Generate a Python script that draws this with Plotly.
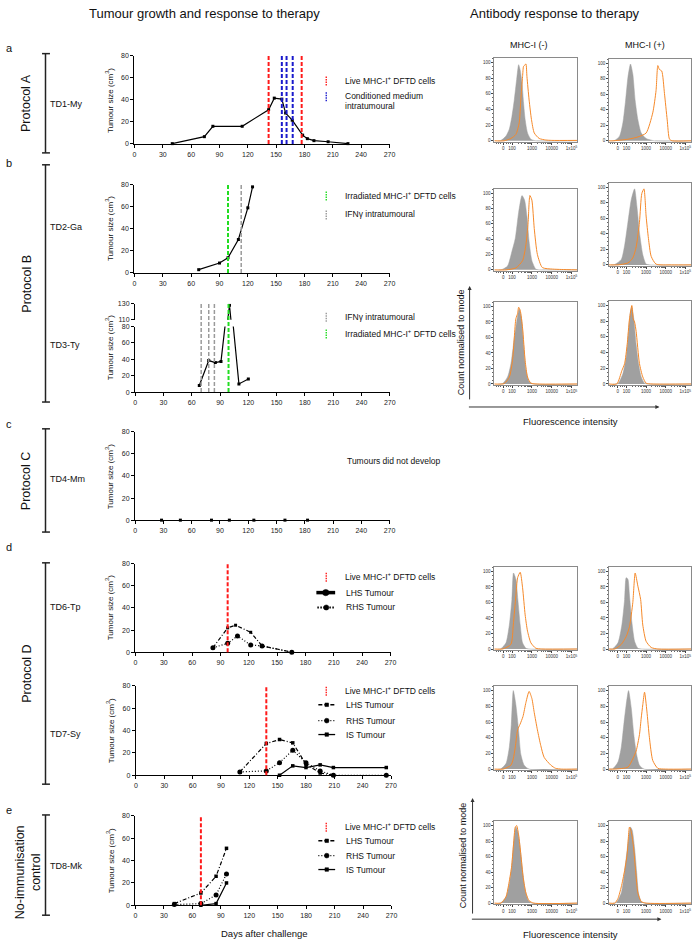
import math
import plotly.graph_objects as go

# ---------------------------------------------------------------- data
DAY_TICKS = [0, 30, 60, 90, 120, 150, 180, 210, 240, 270]
SIZE_TICKS = [0, 20, 40, 60, 80]

# a  TD1-My
TD1_DAYS = [40, 74, 83, 114, 142, 148, 156, 160, 167, 178, 183, 190, 205, 226]
TD1_SIZE = [0.3, 6.6, 16, 16, 31, 41.5, 40.6, 28, 21.5, 8, 4.8, 3, 2, 0.3]
TD1_LIVE = [142, 177]
TD1_COND = [156, 161, 167.5]

# b  TD2-Ga
TD2_DAYS = [68, 90, 99, 110, 120, 125]
TD2_SIZE = [3, 9, 13.8, 30.3, 59, 78]
TD2_IRR = [99]
TD2_IFN = [113]

# b  TD3-Ty (broken axis)
TD3_DAYS = [68, 78, 85, 91, 100, 110, 120]
TD3_SIZE = [8, 38.5, 36, 37.5, 128, 10, 16]
TD3_IFN = [70, 78, 84]
TD3_IRR = [99]

# c  TD4-Mm
TD4_DAYS = [28, 48, 81, 100, 126, 159, 183]
TD4_SIZE = [0, 0, 0, 0, 0, 0, 0]

# d  TD6-Tp
TD6_LHS_DAYS = [82, 97.6, 106, 122, 134, 165.5]
TD6_LHS_SIZE = [4, 22, 24.4, 18, 5.7, 0]
TD6_RHS_DAYS = [82, 97.6, 108, 122, 134, 165.5]
TD6_RHS_SIZE = [4, 8, 14.6, 6.5, 5.6, 0]
TD6_LIVE = [97.6]

# d  TD7-Sy
TD7_LHS_DAYS = [110, 138, 152, 166, 180, 195, 209]
TD7_LHS_SIZE = [3, 28.4, 32, 29, 9.8, 2, 0]
TD7_RHS_DAYS = [110, 138, 152, 166, 180, 195, 209, 265]
TD7_RHS_SIZE = [3, 3.9, 11.3, 22.4, 11.3, 3.9, 0, 0]
TD7_IS_DAYS = [152, 166, 180, 195, 209, 265]
TD7_IS_SIZE = [0, 8.4, 6.9, 9.3, 6.9, 6.9]
TD7_LIVE = [138]

# e  TD8-Mk
TD8_LHS_DAYS = [41, 69, 85, 96]
TD8_LHS_SIZE = [1.5, 11, 26, 51]
TD8_RHS_DAYS = [41, 69, 85, 96]
TD8_RHS_SIZE = [0.6, 1.5, 9.3, 28]
TD8_IS_DAYS = [69, 85, 96]
TD8_IS_SIZE = [0, 1.5, 20]
TD8_LIVE = [69]

# flow-cytometry histograms: (axis position in decades, % of mode)
HIST_TICKVALS = [1.55, 2, 3, 4, 5]
HIST_TICKTEXT = ["0", "100", "1000", "10000", "1x10<sup>5</sup>"]

TD1_NEG_CTRL = [(1.3,0),(1.44,0.5),(1.69,6),(1.86,15),(1.99,31),(2.11,52),(2.23,78),(2.33,97),(2.41,90),(2.5,74),(2.58,48),(2.66,27),(2.78,10),(2.95,2),(3.2,0),(5.3,0)]
TD1_NEG_SERA = [(1.1,0),(1.6,0),(1.94,3),(2.19,8),(2.36,23),(2.44,52),(2.53,82),(2.58,95),(2.63,96),(2.7,98),(2.75,82),(2.86,52),(2.98,27),(3.12,10),(3.37,3),(3.7,1),(4.0,0.5),(5.3,0.5)]
TD1_POS_CTRL = [(1.2,0),(1.39,0.5),(1.64,6),(1.81,23),(1.95,52),(2.07,82),(2.2,99),(2.32,86),(2.44,52),(2.58,27),(2.75,10),(3.0,3),(3.43,0),(5.3,0)]
TD1_POS_SERA = [(1.1,0),(1.3,0),(2.07,2),(2.58,5),(3.0,10),(3.34,36),(3.51,65),(3.6,97),(3.68,92),(3.8,90),(3.94,61),(4.08,27),(4.2,2),(4.35,0),(5.3,0)]

TD2_NEG_CTRL = [(1.3,0),(1.49,0.5),(1.77,5),(1.99,24),(2.16,41),(2.33,75),(2.5,97),(2.63,91),(2.75,70),(2.86,37),(3.0,12),(3.2,1),(3.4,0),(5.3,0)]
TD2_NEG_SERA = [(1.1,0),(1.69,0),(2.19,2.5),(2.53,12),(2.7,33),(2.81,62),(2.9,97),(3.0,91),(3.12,54),(3.28,20),(3.53,3),(4.04,1),(4.5,0.5),(5.3,0)]
TD2_POS_CTRL = [(1.2,0),(1.39,0.5),(1.73,7),(1.9,25),(2.07,55),(2.24,84),(2.41,98),(2.53,75),(2.66,42),(2.83,13),(3.0,1),(3.2,0),(5.3,0)]
TD2_POS_SERA = [(1.1,0),(1.56,0),(2.07,2.5),(2.32,9),(2.49,23),(2.66,55),(2.78,92),(2.89,98),(3.0,63),(3.12,34),(3.26,11),(3.51,1),(4.3,0),(5.3,0)]

TD3_NEG_CTRL = [(1.3,0),(1.52,0.5),(1.77,9),(1.94,26),(2.11,59),(2.28,88),(2.36,97),(2.48,84),(2.58,51),(2.7,18),(2.86,3),(3.1,0),(5.3,0)]
TD3_NEG_SERA = [(1.1,0),(1.6,0.5),(1.86,9),(2.02,30),(2.19,84),(2.28,91),(2.33,99),(2.41,95),(2.53,72),(2.66,30),(2.78,9),(2.95,1),(3.3,0),(5.3,0)]
TD3_POS_CTRL = [(1.3,0),(1.56,0.5),(1.81,13),(1.98,34),(2.1,67),(2.2,92),(2.27,98),(2.37,83),(2.49,50),(2.61,26),(2.75,9),(2.92,1),(3.1,0),(5.3,0)]
TD3_POS_SERA = [(1.1,0),(1.5,0),(1.76,17),(1.9,26),(2.03,50),(2.15,83),(2.27,100),(2.34,83),(2.41,79),(2.49,67),(2.66,26),(2.83,9),(3.0,1),(3.3,0),(5.3,0)]

TD6_NEG_CTRL = [(1.3,0),(1.44,0.5),(1.69,8),(1.86,31),(1.99,64),(2.07,98),(2.19,90),(2.29,64),(2.41,31),(2.53,8),(2.7,1),(2.9,0),(5.3,0)]
TD6_NEG_SERA = [(1.1,0),(1.52,0),(1.94,6),(2.06,31),(2.19,69),(2.28,92),(2.41,99),(2.53,79),(2.66,44),(2.78,23),(2.95,8),(3.2,1),(3.5,0),(5.3,0)]
TD6_POS_CTRL = [(1.15,0),(1.3,0.5),(1.56,8),(1.76,31),(1.9,64),(1.98,92),(2.07,90),(2.15,69),(2.27,35),(2.41,10),(2.58,1),(2.8,0),(5.3,0)]
TD6_POS_SERA = [(1.1,0),(1.4,0),(1.73,6),(1.98,16),(2.15,29),(2.32,60),(2.44,98),(2.58,81),(2.72,64),(2.83,31),(3.0,10),(3.26,2),(3.6,0),(5.3,0)]

TD7_NEG_CTRL = [(1.3,0),(1.44,0.5),(1.69,7),(1.86,28),(1.96,57),(2.06,100),(2.19,82),(2.33,49),(2.44,19),(2.61,5),(2.86,0),(5.3,0)]
TD7_NEG_SERA = [(1.1,0),(1.55,0),(1.94,5),(2.06,13),(2.16,28),(2.28,50),(2.4,57),(2.55,67),(2.7,85),(2.86,99),(3.0,90),(3.12,72),(3.28,50),(3.45,30),(3.62,15),(3.96,5),(4.2,1),(4.5,0),(5.3,0)]
TD7_POS_CTRL = [(1.15,0),(1.3,0.5),(1.56,9),(1.73,28),(1.86,57),(1.98,82),(2.1,100),(2.24,78),(2.37,44),(2.51,19),(2.66,5),(2.9,0),(5.3,0)]
TD7_POS_SERA = [(1.1,0),(1.4,0),(2.07,2.5),(2.32,13),(2.49,23),(2.66,44),(2.75,65),(2.83,82),(2.92,98),(3.04,74),(3.17,40),(3.34,11),(3.6,1),(4.0,0),(5.3,0)]

TD8_NEG_CTRL = [(1.3,0),(1.44,0.5),(1.69,8),(1.86,25),(1.99,50),(2.07,75),(2.19,98),(2.29,92),(2.39,75),(2.53,42),(2.66,17),(2.83,3),(3.0,0),(5.3,0)]
TD8_NEG_SERA = [(1.1,0),(1.44,0),(1.69,8),(1.82,23),(1.97,46),(2.07,75),(2.16,98),(2.23,100),(2.33,88),(2.44,63),(2.56,33),(2.7,13),(2.86,3),(3.1,0),(5.3,0)]
TD8_POS_CTRL = [(1.3,0),(1.47,0.5),(1.73,13),(1.86,33),(1.98,58),(2.1,83),(2.2,98),(2.29,94),(2.41,71),(2.51,42),(2.61,13),(2.75,2),(2.92,0),(5.3,0)]
TD8_POS_SERA = [(1.1,0),(1.4,0),(1.56,6),(1.73,21),(1.9,42),(2.03,63),(2.15,98),(2.24,92),(2.36,71),(2.46,42),(2.58,13),(2.75,2),(3.0,0),(5.3,0)]

# ---------------------------------------------------------------- helpers
W, H = 700, 945
FONT = "Liberation Sans, Arial, sans-serif"
RED = "#ff1a1a"
BLUE = "#1a1acc"
GREEN = "#22dd22"
GREY = "#9a9a9a"
ORANGE = "#f5892a"
HIST_GREY = "#a0a0a0"


def X(px):
    return px / W


def Y(py):
    return 1 - py / H


def xdom(a, b):
    return [a / W, b / W]


def ydom(top, bot):
    return [1 - bot / H, 1 - top / H]


fig = go.Figure()
layout_axes = {}
shapes = []
annotations = []
_n = [0]


def new_axes(xopts, yopts):
    _n[0] += 1
    s = "" if _n[0] == 1 else str(_n[0])
    xopts = dict(xopts)
    yopts = dict(yopts)
    xopts.setdefault("anchor", "y" + s)
    yopts.setdefault("anchor", "x" + s)
    layout_axes["xaxis" + s] = xopts
    layout_axes["yaxis" + s] = yopts
    return "x" + s, "y" + s


def left_x(x0, x1, top, bot):
    return dict(domain=xdom(x0, x1), range=[0, 270], tickvals=DAY_TICKS,
                ticks="outside", ticklen=3, tickwidth=1, tickcolor="black",
                showline=True, linecolor="black", linewidth=1.4,
                showgrid=False, zeroline=False,
                tickfont=dict(size=7, color="#222", family=FONT))


def left_y(top, bot, rng=(0, 80), ticks=SIZE_TICKS):
    return dict(domain=ydom(top, bot), range=list(rng), tickvals=ticks,
                ticks="outside", ticklen=3, tickwidth=1, tickcolor="black",
                showline=True, linecolor="black", linewidth=1.4,
                showgrid=False, zeroline=False,
                tickfont=dict(size=7, color="#222", family=FONT))


def text(x, y, s, size=8.5, anchor="left", angle=0, color="#111"):
    annotations.append(dict(x=X(x), y=Y(y), xref="paper", yref="paper", text=s,
                            showarrow=False, xanchor=anchor, yanchor="middle",
                            textangle=angle,
                            font=dict(size=size, color=color, family=FONT)))


def ytitle(x, y):
    text(x, y, "Tumour size (cm<sup>3</sup>)", size=8, anchor="center", angle=-90)


def vlines(xa, ya, days, color, width=2, dash="4px,2px", paper_span=None):
    for d in days:
        if paper_span:
            shapes.append(dict(type="line", xref=xa, yref="paper", x0=d, x1=d,
                               y0=Y(paper_span[1]), y1=Y(paper_span[0]),
                               line=dict(color=color, width=width, dash=dash)))
        else:
            shapes.append(dict(type="line", xref=xa, yref=ya + " domain", x0=d, x1=d,
                               y0=0, y1=1, line=dict(color=color, width=width, dash=dash)))


def leg_treat(x, y, color, label_lines):
    shapes.append(dict(type="line", xref="paper", yref="paper", x0=X(x), x1=X(x),
                       y0=Y(y + 5), y1=Y(y - 5),
                       line=dict(color=color, width=1.4, dash="1.5px,1px")))
    text(x + 17, y, label_lines)


def leg_marker(x, y, kind, r):
    shapes.append(dict(type="circle" if kind == "circle" else "rect",
                       xref="paper", yref="paper",
                       x0=X(x - r), x1=X(x + r), y0=Y(y + r), y1=Y(y - r),
                       fillcolor="black", line=dict(color="black", width=0.5)))


def leg_series(x0, x1, y, dash, kind, r, label, width=1.3):
    shapes.append(dict(type="line", xref="paper", yref="paper", x0=X(x0), x1=X(x1),
                       y0=Y(y), y1=Y(y), line=dict(color="black", width=width, dash=dash)))
    leg_marker((x0 + x1) / 2, y, kind, r)
    text(346, y, label)


def series(xa, ya, xs, ys, dash="solid", symbol="square", size=3, mode="lines+markers", clip=False):
    fig.add_trace(go.Scatter(x=xs, y=ys, xaxis=xa, yaxis=ya, mode=mode,
                             line=dict(color="black", width=1.2, dash=dash),
                             marker=dict(symbol=symbol, size=size, color="black"),
                             cliponaxis=clip, showlegend=False, hoverinfo="skip"))


# ---------------------------------------------------------------- left: tumour growth
# a
xa, ya = new_axes(left_x(134, 392, 52, 141), left_y(52, 141))
series(xa, ya, TD1_DAYS, TD1_SIZE)
vlines(xa, ya, TD1_LIVE, RED)
vlines(xa, ya, TD1_COND, BLUE)
ytitle(109, 97)
leg_treat(328, 77, RED, "Live MHC-I<sup>+</sup> DFTD cells")
leg_treat(328, 93, BLUE, "Conditioned medium")
text(345, 103, "intratumoural")

# b TD2-Ga
xa, ya = new_axes(left_x(134, 392, 182, 271), left_y(182, 271))
series(xa, ya, TD2_DAYS, TD2_SIZE)
vlines(xa, ya, TD2_IRR, GREEN)
vlines(xa, ya, TD2_IFN, GREY, width=1.5)
ytitle(109, 226)
leg_treat(328, 193, GREEN, "Irradiated MHC-I<sup>+</sup> DFTD cells")
leg_treat(328, 212, GREY, "IFNγ intratumoural")

# b TD3-Ty lower + upper
xa, ya = new_axes(left_x(134.7, 392.3, 325, 391), left_y(325, 391))
series(xa, ya, TD3_DAYS, TD3_SIZE, clip=True)
xu, yu = new_axes(dict(domain=xdom(134.7, 392.3), range=[0, 270], visible=False),
                  left_y(302, 318, rng=(110, 130), ticks=[110, 130]))
series(xu, yu, TD3_DAYS, TD3_SIZE, clip=True)
vlines(xa, ya, TD3_IFN, GREY, width=1.5, paper_span=(302, 391))
vlines(xa, ya, TD3_IRR, GREEN, paper_span=(302, 391))
ytitle(109, 346)
leg_treat(328, 315, GREY, "IFNγ intratumoural")
leg_treat(328, 332, GREEN, "Irradiated MHC-I<sup>+</sup> DFTD cells")

# c TD4-Mm
xa, ya = new_axes(left_x(134.7, 392, 431, 520), left_y(431, 520))
series(xa, ya, TD4_DAYS, TD4_SIZE, mode="markers")
ytitle(109, 476)
text(347, 460, "Tumours did not develop")

# d TD6-Tp
xa, ya = new_axes(left_x(135, 393, 564, 653), left_y(564, 653))
series(xa, ya, TD6_LHS_DAYS, TD6_LHS_SIZE, dash="4px,2px,1px,2px", symbol="square", size=3)
series(xa, ya, TD6_RHS_DAYS, TD6_RHS_SIZE, dash="1px,2px", symbol="circle", size=5)
vlines(xa, ya, TD6_LIVE, RED)
ytitle(109, 608)
leg_treat(328, 577, RED, "Live MHC-I<sup>+</sup> DFTD cells")
leg_series(318, 337, 593, "solid", "circle", 3.2, "LHS Tumour", width=3.5)
leg_series(319, 337, 608, "1.5px,1.5px", "circle", 2.6, "RHS Tumour", width=2)

# d TD7-Sy
xa, ya = new_axes(left_x(135.5, 393.5, 687, 777), left_y(687, 777))
series(xa, ya, TD7_LHS_DAYS, TD7_LHS_SIZE, dash="4px,2px,1px,2px", symbol="square", size=3.5)
series(xa, ya, TD7_RHS_DAYS, TD7_RHS_SIZE, dash="1px,2px", symbol="circle", size=5)
series(xa, ya, TD7_IS_DAYS, TD7_IS_SIZE, dash="solid", symbol="square", size=3.5)
vlines(xa, ya, TD7_LIVE, RED)
ytitle(109, 732)
leg_treat(328, 692, RED, "Live MHC-I<sup>+</sup> DFTD cells")
leg_series(320, 337, 706, "4px,2px", "square", 1.8, "LHS Tumour")
leg_series(320, 337, 722, "1px,2px", "circle", 2.4, "RHS Tumour")
leg_series(320, 337, 736, "solid", "square", 1.8, "IS Tumour")

# e TD8-Mk
xa, ya = new_axes(left_x(135, 394, 818, 908), left_y(818, 908))
series(xa, ya, TD8_LHS_DAYS, TD8_LHS_SIZE, dash="4px,2px,1px,2px", symbol="square", size=3.5)
series(xa, ya, TD8_RHS_DAYS, TD8_RHS_SIZE, dash="1px,2px", symbol="circle", size=5)
series(xa, ya, TD8_IS_DAYS, TD8_IS_SIZE, dash="solid", symbol="square", size=3.5)
vlines(xa, ya, TD8_LIVE, RED)
ytitle(109, 863)
leg_treat(328, 829, RED, "Live MHC-I<sup>+</sup> DFTD cells")
leg_series(320, 337, 843, "4px,2px", "square", 1.8, "LHS Tumour")
leg_series(320, 337, 858, "1px,2px", "circle", 2.4, "RHS Tumour")
leg_series(320, 337, 872, "solid", "square", 1.8, "IS Tumour")
text(266, 936, "Days after challenge", size=9.5, anchor="center")

# ---------------------------------------------------------------- right: histograms
MINOR_X = [1.2, 1.3, 1.4, 1.7, 1.8, 1.9] + [math.log10(k * 10 ** d) for d in (2, 3, 4) for k in range(2, 10)]


def hist(x0, x1, top, bot, ctrl, sera):
    xo = dict(domain=xdom(x0, x1), range=[1.1, 5.3], tickvals=HIST_TICKVALS, ticktext=HIST_TICKTEXT,
              ticks="outside", ticklen=2, tickwidth=0.6, tickcolor="#444",
              tickfont=dict(size=4.5, color="#333", family=FONT),
              showline=True, linecolor="#8a8a8a", linewidth=0.8, mirror=True,
              showgrid=False, zeroline=False,
              minor=dict(tickvals=MINOR_X, ticks="outside", ticklen=1.2, tickwidth=0.5, tickcolor="#666"))
    yo = dict(domain=ydom(top, bot), range=[-1.5, 106], tick0=0, dtick=20,
              ticks="outside", ticklen=2, tickwidth=0.6, tickcolor="#444",
              tickfont=dict(size=4.5, color="#333", family=FONT),
              showline=True, linecolor="#8a8a8a", linewidth=0.8, mirror=True,
              showgrid=False, zeroline=False,
              minor=dict(dtick=5, ticks="outside", ticklen=1.2, tickwidth=0.5, tickcolor="#666"))
    xa, ya = new_axes(xo, yo)
    fig.add_trace(go.Scatter(x=[p[0] for p in ctrl], y=[p[1] for p in ctrl], xaxis=xa, yaxis=ya,
                             mode="lines", fill="tozeroy", fillcolor=HIST_GREY,
                             line=dict(color=HIST_GREY, width=0.5, shape="spline", smoothing=0.6),
                             showlegend=False, hoverinfo="skip"))
    fig.add_trace(go.Scatter(x=[p[0] for p in sera], y=[p[1] for p in sera], xaxis=xa, yaxis=ya,
                             mode="lines",
                             line=dict(color=ORANGE, width=1, shape="spline", smoothing=0.6),
                             showlegend=False, hoverinfo="skip"))


C1 = (498, 582)
C2 = (614, 697)
hist(*C1, 54, 139, TD1_NEG_CTRL, TD1_NEG_SERA)
hist(*C2, 55, 139, TD1_POS_CTRL, TD1_POS_SERA)
hist(*C1, 186, 269, TD2_NEG_CTRL, TD2_NEG_SERA)
hist(*C2, 180, 264, TD2_POS_CTRL, TD2_POS_SERA)
hist(*C1, 300, 384, TD3_NEG_CTRL, TD3_NEG_SERA)
hist(*C2, 299, 384, TD3_POS_CTRL, TD3_POS_SERA)
hist(*C1, 567, 651, TD6_NEG_CTRL, TD6_NEG_SERA)
hist(*C2, 567, 651, TD6_POS_CTRL, TD6_POS_SERA)
hist(*C1, 687, 772, TD7_NEG_CTRL, TD7_NEG_SERA)
hist(*C2, 687, 772, TD7_POS_CTRL, TD7_POS_SERA)
hist(*C1, 823, 907, TD8_NEG_CTRL, TD8_NEG_SERA)
hist(*C2, 823, 907, TD8_POS_CTRL, TD8_POS_SERA)

text(533, 41, "MHC-I (-)", size=9, anchor="center")
text(650, 41, "MHC-I (+)", size=9, anchor="center")


def arrows(xv, ytop, ybot, yh, xright):
    annotations.append(dict(x=X(xv), y=Y(ytop), xref="paper", yref="paper", ax=0, ay=ybot - ytop,
                            axref="pixel", ayref="pixel", text="", showarrow=True,
                            arrowhead=2, arrowsize=0.8, arrowwidth=1, arrowcolor="#333"))
    annotations.append(dict(x=X(xright), y=Y(yh), xref="paper", yref="paper", ax=-(xright - xv), ay=0,
                            text="", showarrow=True,
                            arrowhead=2, arrowsize=0.8, arrowwidth=1, arrowcolor="#333"))


arrows(473, 284, 399, 406, 665)
text(465, 341, "Count normalised to mode", size=9, anchor="center", angle=-90)
text(575, 421, "Fluorescence intensity", size=9.5, anchor="center")
arrows(476, 800, 917, 922, 667)
text(466, 858, "Count normalised to mode", size=9, anchor="center", angle=-90)
text(575, 937, "Fluorescence intensity", size=9.5, anchor="center")

# ---------------------------------------------------------------- frame labels
text(205, 10, "Tumour growth and response to therapy", size=13, anchor="center")
text(559, 10, "Antibody response to therapy", size=13, anchor="center")

for letter, yy in [("a", 44), ("b", 160), ("c", 423), ("d", 547), ("e", 812)]:
    text(2, yy, letter, size=11, anchor="left")

for top, bot in [(50, 150), (162, 401), (428, 532), (563, 786), (817, 918)]:
    shapes.append(dict(type="line", xref="paper", yref="paper", x0=X(44), x1=X(44),
                       y0=Y(bot), y1=Y(top), line=dict(color="#222", width=1.5)))
    for yy in (top, bot):
        shapes.append(dict(type="line", xref="paper", yref="paper", x0=X(40.5), x1=X(48.5),
                           y0=Y(yy), y1=Y(yy), line=dict(color="#222", width=1.5)))

text(25, 100, "Protocol A", size=12.5, anchor="center", angle=-90)
text(25, 282, "Protocol B", size=12.5, anchor="center", angle=-90)
text(25, 481, "Protocol C", size=12.5, anchor="center", angle=-90)
text(25, 675, "Protocol D", size=12.5, anchor="center", angle=-90)
text(26, 875, "No-immunisation<br>control", size=12.5, anchor="center", angle=-90)

for lab, yy in [("TD1-My", 101), ("TD2-Ga", 225), ("TD3-Ty", 344), ("TD4-Mm", 479),
                ("TD6-Tp", 608), ("TD7-Sy", 735), ("TD8-Mk", 868)]:
    text(47, yy, lab, size=9)

fig.update_layout(width=W, height=H, margin=dict(l=0, r=0, t=0, b=0),
                  paper_bgcolor="white", plot_bgcolor="white",
                  font=dict(family=FONT, color="#111"),
                  shapes=shapes, annotations=annotations, showlegend=False,
                  **layout_axes)
fig.write_html("out.html", config={"displayModeBar": False},
               post_script="document.body.style.margin='0px';")
